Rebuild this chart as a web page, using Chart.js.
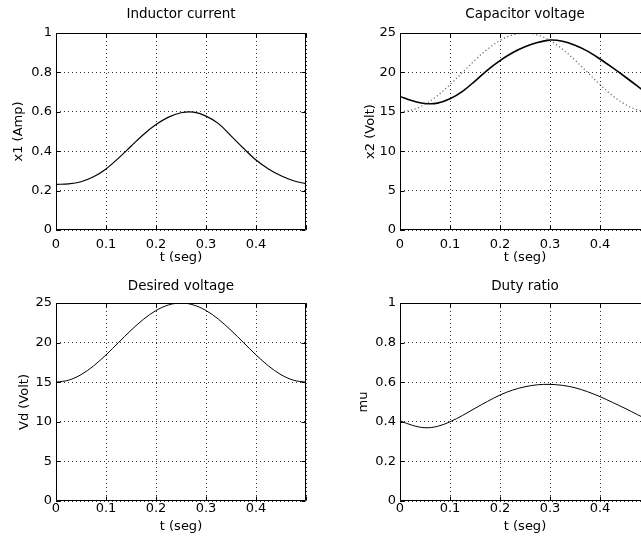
<!DOCTYPE html>
<html>
<head>
<meta charset="utf-8">
<script src="https://cdn.jsdelivr.net/npm/chart.js@4.4.1/dist/chart.umd.min.js"></script>
<style>
  html, body { margin: 0; padding: 0; background: #fff; }
  body { position: relative; width: 641px; height: 544px; overflow: hidden; }
  canvas { position: absolute; }
</style>
</head>
<body>
<canvas id="c1"></canvas>
<canvas id="c2"></canvas>
<canvas id="c3"></canvas>
<canvas id="c4"></canvas>
<script>
// time samples (seg)
const tSeg = [0, 0.025, 0.05, 0.075, 0.1, 0.125, 0.15, 0.175, 0.2, 0.225, 0.25,
              0.275, 0.3, 0.325, 0.35, 0.375, 0.4, 0.425, 0.45, 0.475, 0.5];

// values
const inductorCurrent = [0.232, 0.234, 0.245, 0.27, 0.31, 0.365, 0.425, 0.485, 0.535, 0.573, 0.595,
                         0.598, 0.578, 0.54, 0.478, 0.415, 0.355, 0.31, 0.275, 0.25, 0.235];
const capacitorVoltage = [16.95, 16.4, 16.05, 16.1, 16.65, 17.6, 18.9, 20.3, 21.5, 22.5, 23.25,
                          23.8, 24.1, 23.95, 23.45, 22.7, 21.7, 20.6, 19.45, 18.25, 17.0];
const desiredVoltage = [15, 15.25, 15.95, 17.05, 18.45, 20, 21.55, 22.95, 24.05, 24.75, 25,
                        24.75, 24.05, 22.95, 21.55, 20, 18.45, 17.05, 15.95, 15.25, 15];
const dutyRatio = [0.405, 0.382, 0.37, 0.377, 0.4, 0.432, 0.468, 0.503, 0.535, 0.56, 0.577,
                   0.587, 0.589, 0.584, 0.572, 0.552, 0.527, 0.498, 0.468, 0.436, 0.405];

// tick labels
const tTicks = [0, 0.1, 0.2, 0.3, 0.4, 0.5];
const unitTicks = [0, 0.2, 0.4, 0.6, 0.8, 1];
const voltTicks = [0, 5, 10, 15, 20, 25];

Chart.defaults.font.family = 'DejaVu Sans';
Chart.defaults.font.size = 13;
Chart.defaults.color = '#000';

// black box round the plot with inward ticks, like matlab
const framePlugin = {
  id: 'frame',
  afterDraw(chart) {
    const { ctx, chartArea: a, scales } = chart;
    const L = Math.round(a.left) + 0.5, R = Math.round(a.right) - 0.5;
    const T = Math.round(a.top) + 0.5, B = Math.round(a.bottom) - 0.5;
    ctx.save();
    ctx.strokeStyle = '#000';
    ctx.lineWidth = 1;
    ctx.beginPath();
    ctx.rect(L, T, R - L, B - T);
    scales.x.ticks.forEach(tk => {
      const px = Math.round(scales.x.getPixelForValue(tk.value)) + 0.5;
      ctx.moveTo(px, B); ctx.lineTo(px, B - 4);
      ctx.moveTo(px, T); ctx.lineTo(px, T + 4);
    });
    scales.y.ticks.forEach(tk => {
      const py = Math.round(scales.y.getPixelForValue(tk.value)) + 0.5;
      ctx.moveTo(L, py); ctx.lineTo(L + 4, py);
      ctx.moveTo(R, py); ctx.lineTo(R - 4, py);
    });
    ctx.stroke();
    ctx.restore();
  }
};

function series(vals, color, width, dash) {
  return {
    data: tSeg.map((t, i) => ({ x: t, y: vals[i] })),
    borderColor: color,
    borderWidth: width,
    borderDash: dash || [],
    pointRadius: 0,
    tension: 0.35,
    fill: false
  };
}

function makePlot(id, p) {
  const canvas = document.getElementById(id);
  const w = p.yW * 2 + 250;
  const h = p.areaBottom + 42;
  canvas.width = w;
  canvas.height = h;
  canvas.style.left = p.left + 'px';
  canvas.style.top = p.top + 'px';

  new Chart(canvas.getContext('2d'), {
    type: 'line',
    data: { datasets: p.datasets },
    plugins: [framePlugin],
    options: {
      responsive: false,
      animation: false,
      layout: { padding: { left: 0, right: p.yW, top: 0, bottom: 0 } },
      scales: {
        x: {
          type: 'linear',
          min: 0,
          max: 0.5,
          afterBuildTicks: s => { s.ticks = tTicks.map(v => ({ value: v })); },
          afterFit: s => { s.height = 42; },
          ticks: {
            padding: p.xTickPad,
            autoSkip: false,
            maxRotation: 0,
            callback: v => (v >= 0.5 ? '' : String(v))
          },
          grid: { color: '#333', lineWidth: 1, drawTicks: false },
          border: { display: false, dash: [1, 3] },
          title: {
            display: true,
            text: 't (seg)',
            padding: { top: 0, bottom: p.xTitlePad }
          }
        },
        y: {
          min: 0,
          max: p.yMax,
          afterBuildTicks: s => { s.ticks = p.yTicks.map(v => ({ value: v })); },
          afterFit: s => { s.width = p.yW; },
          ticks: { padding: 4, autoSkip: false, callback: v => String(v) },
          grid: { color: '#333', lineWidth: 1, drawTicks: false },
          border: { display: false, dash: [1, 3] },
          title: {
            display: true,
            text: p.yTitle,
            padding: { top: p.yTitlePad, bottom: 0 }
          }
        }
      },
      plugins: {
        legend: { display: false },
        tooltip: { enabled: false },
        title: {
          display: true,
          fullSize: false,
          text: p.title,
          color: '#000',
          font: { size: 13.5, weight: 'normal' },
          padding: { top: p.titleTop, bottom: p.titleBottom }
        }
      }
    }
  });
}

makePlot('c1', {
  left: 0, top: 0, yW: 56, areaBottom: 230,
  title: 'Inductor current', titleTop: 6.6, titleBottom: 10.2,
  yTitle: 'x1 (Amp)', yTitlePad: 11.2, xTickPad: 7, xTitlePad: 6.2,
  yMax: 1, yTicks: unitTicks,
  datasets: [series(inductorCurrent, '#000', 1.2)]
});

makePlot('c2', {
  left: 320, top: 0, yW: 80, areaBottom: 230,
  title: 'Capacitor voltage', titleTop: 6.6, titleBottom: 10.2,
  yTitle: 'x2 (Volt)', yTitlePad: 43.2, xTickPad: 7, xTitlePad: 6.2,
  yMax: 25, yTicks: voltTicks,
  datasets: [
    series(desiredVoltage, '#666', 1.2, [1.2, 2.5]),
    series(capacitorVoltage, '#000', 1.6)
  ]
});

makePlot('c3', {
  left: 0, top: 272, yW: 56, areaBottom: 229,
  title: 'Desired voltage', titleTop: 5.9, titleBottom: 8.9,
  yTitle: 'Vd (Volt)', yTitlePad: 17.2, xTickPad: 0, xTitlePad: 8.2,
  yMax: 25, yTicks: voltTicks,
  datasets: [series(desiredVoltage, '#000', 1)]
});

makePlot('c4', {
  left: 320, top: 272, yW: 80, areaBottom: 229,
  title: 'Duty ratio', titleTop: 5.9, titleBottom: 8.9,
  yTitle: 'mu', yTitlePad: 36.2, xTickPad: 0, xTitlePad: 8.2,
  yMax: 1, yTicks: unitTicks,
  datasets: [series(dutyRatio, '#000', 1)]
});
</script>
</body>
</html>
